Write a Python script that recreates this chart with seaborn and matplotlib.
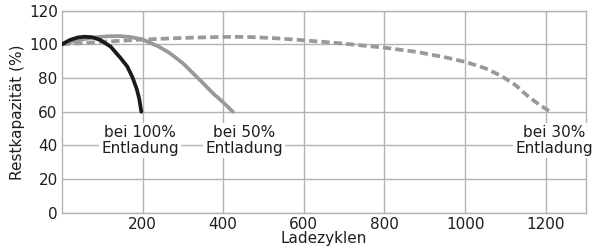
import pandas as pd
import matplotlib
matplotlib.use("Agg")
import matplotlib.pyplot as plt
import seaborn as sns

# Estimated reading of the curves (Ladezyklen vs Restkapazitaet %)
cycles_100 = [0, 20, 40, 56, 75, 95, 121, 145, 162, 175, 186, 192, 197]
cap_100 = [100, 102.6, 104.1, 104.5, 104.2, 102.6, 98.6, 92, 86.9, 80.5, 73.2, 67.5, 60]

cycles_50 = [0, 40, 80, 110, 141, 170, 200, 240, 268, 300, 325, 350, 374, 400, 424]
cap_50 = [100, 102.5, 104.1, 104.7, 104.9, 104.3, 102.9, 98.7, 94.7, 88.8, 82.9, 77, 71.1, 65.6, 60]

cycles_30 = [0, 100, 200, 300, 400, 460, 530, 600, 700, 800, 880, 950, 1000, 1050, 1090, 1125, 1155, 1185, 1212]
cap_30 = [100, 101.5, 102.8, 103.8, 104.4, 104.4, 103.6, 102.4, 100.4, 98, 95.5, 92.3, 89.6, 85.8, 81.2, 75.8, 69.4, 64, 60]

labels = ["bei 100%\nEntladung", "bei 50%\nEntladung", "bei 30%\nEntladung"]
label_x = [194, 452, 1220]
label_y = [43, 43, 43]

xticks = [200, 400, 600, 800, 1000, 1200]
yticks = [0, 20, 40, 60, 80, 100, 120]

sns.set_style("white")
plt.rcParams['font.family'] = ['DejaVu Sans']
matplotlib.rcParams.update({'font.size': 11})

fig, ax = plt.subplots(figsize=(5.95, 2.52), dpi=100)
fig.subplots_adjust(left=0.104, right=0.985, bottom=0.155, top=0.958)

grid_col = '#b3b3b3'
sns.lineplot(x=cycles_30, y=cap_30, ax=ax, color='#999999', linewidth=2.7,
             linestyle=(0, (2.2, 1.1)), sort=False, zorder=3)
sns.lineplot(x=cycles_50, y=cap_50, ax=ax, color='#999999', linewidth=2.7,
             sort=False, zorder=4)
sns.lineplot(x=cycles_100, y=cap_100, ax=ax, color='#1a1a1a', linewidth=2.7,
             sort=False, zorder=5)

for lab, lx, ly in zip(labels, label_x, label_y):
    ax.text(lx, ly, lab, ha='center', va='center', fontsize=11, color='#1e1e1e',
            linespacing=1.05, zorder=6, clip_on=False,
            bbox=dict(facecolor='white', edgecolor='none', pad=1.5))

ax.set_xlim(0, 1300)
ax.set_ylim(0, 120)
ax.set_xticks(xticks)
ax.set_yticks(yticks)
ax.grid(True, color=grid_col, linewidth=1)
ax.set_axisbelow(True)
for s in ax.spines.values():
    s.set_color(grid_col)
    s.set_linewidth(1)
ax.tick_params(length=0, labelsize=11, colors='#1e1e1e', pad=3)
ax.set_xlabel('Ladezyklen', fontsize=11, color='#1e1e1e', labelpad=-1)
ax.set_ylabel('Restkapazität (%)', fontsize=11, color='#1e1e1e', labelpad=3)

plt.savefig('out.png', dpi=100)
